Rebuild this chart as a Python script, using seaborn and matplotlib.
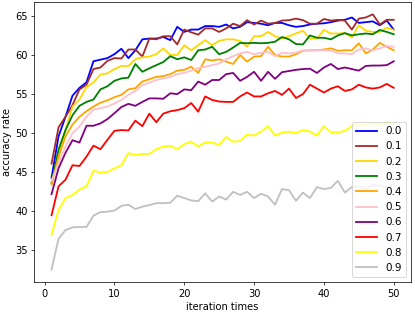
import numpy as np
import pandas as pd
import seaborn as sns
import matplotlib
matplotlib.use("Agg")
import matplotlib.pyplot as plt

# values
iterations = list(range(1, 51))
rates = ["0.0", "0.1", "0.2", "0.3", "0.4", "0.5", "0.6", "0.7", "0.8", "0.9"]
colors = ["blue", "brown", "gold", "green", "orange", "pink", "purple", "red", "yellow", "silver"]

acc_00 = [44.3, 49.6, 52.1, 54.8, 55.8, 56.5, 59.2, 59.4, 59.6, 60.1,
          60.8, 59.6, 60.6, 62.0, 62.1, 62.1, 62.3, 61.9, 63.6, 62.95,
          63.25, 63.25, 63.7, 63.7, 63.6, 63.9, 63.4, 63.6, 64.2, 64.1,
          64.0, 63.8, 64.1, 64.1, 63.8, 63.6, 63.7, 63.9, 64.0, 64.05,
          64.2, 64.4, 64.5, 64.8, 64.1, 64.2, 64.3, 63.8, 64.4, 63.25]
acc_01 = [46.1, 50.75, 52.1, 53.6, 55.6, 56.2, 58.2, 58.4, 59.25, 59.6,
          59.55, 60.7, 60.7, 59.8, 62.1, 62.0, 62.4, 62.4, 61.35, 63.25,
          62.9, 62.6, 63.4, 63.4, 62.95, 63.4, 64.0, 63.7, 64.45, 63.9,
          64.4, 64.0, 64.1, 64.4, 64.45, 64.65, 64.45, 64.0, 64.0, 64.6,
          64.4, 64.5, 64.4, 63.25, 64.65, 64.8, 65.2, 63.9, 64.5, 64.5]
acc_02 = [43.8, 47.0, 50.4, 53.4, 54.3, 55.9, 56.5, 57.5, 57.65, 58.2,
          58.6, 58.6, 59.45, 59.7, 59.8, 60.1, 60.85, 60.0, 60.0, 61.25,
          60.6, 61.25, 61.9, 61.25, 61.8, 62.0, 62.0, 61.8, 61.05, 62.4,
          62.4, 62.95, 62.4, 62.1, 62.4, 62.75, 63.1, 62.1, 62.1, 63.2,
          62.75, 62.75, 62.8, 62.25, 63.8, 63.1, 62.95, 62.95, 63.5, 63.2]
acc_03 = [43.6, 47.9, 50.4, 52.3, 53.5, 54.0, 54.3, 55.6, 56.0, 56.7,
          57.0, 57.1, 58.85, 57.85, 58.3, 58.7, 59.1, 59.85, 59.45, 59.7,
          59.35, 60.6, 60.7, 61.05, 60.1, 60.4, 60.95, 61.55, 61.5, 61.55,
          61.5, 61.55, 61.7, 62.3, 62.0, 61.4, 61.35, 62.5, 62.2, 62.2,
          62.0, 62.5, 62.8, 62.5, 62.65, 62.75, 62.65, 63.2, 62.95, 62.65]
acc_04 = [43.4, 47.0, 49.6, 51.1, 52.1, 52.8, 53.4, 53.9, 54.2, 54.6,
          54.9, 55.6, 55.75, 56.6, 56.9, 57.2, 57.3, 57.55, 58.0, 58.1,
          58.5, 57.7, 59.45, 59.3, 59.45, 59.15, 58.85, 60.0, 59.15, 59.8,
          59.85, 61.05, 60.0, 59.8, 59.8, 60.1, 60.55, 60.6, 60.6, 60.7,
          60.85, 60.55, 60.6, 60.6, 61.5, 60.2, 60.7, 61.55, 61.05, 60.6]
acc_05 = [43.9, 46.2, 48.3, 50.0, 50.85, 52.1, 53.0, 53.2, 53.4, 53.8,
          54.25, 54.9, 55.4, 56.15, 56.45, 56.8, 57.0, 57.2, 57.55, 57.7,
          58.0, 58.3, 58.5, 58.7, 58.9, 59.45, 59.85, 60.2, 60.4, 60.1,
          60.3, 60.4, 59.85, 60.3, 60.2, 60.3, 60.6, 60.55, 60.6, 60.6,
          60.55, 60.2, 60.2, 60.1, 60.7, 60.85, 60.6, 60.85, 61.15, 61.05]
acc_06 = [42.2, 45.5, 47.5, 49.1, 48.8, 50.95, 50.95, 51.25, 51.8, 52.55,
          53.35, 53.75, 53.5, 54.0, 54.45, 54.45, 54.4, 55.1, 55.0, 55.6,
          55.5, 56.6, 56.2, 56.8, 56.8, 57.55, 57.7, 56.7, 57.2, 57.85,
          56.7, 57.85, 56.95, 57.8, 57.95, 58.1, 58.2, 58.25, 57.7, 58.4,
          58.85, 58.2, 58.4, 58.2, 58.0, 58.6, 58.65, 58.65, 58.7, 59.2]
acc_07 = [39.5, 43.2, 44.05, 45.9, 45.8, 47.0, 48.4, 47.95, 49.15, 50.3,
          50.4, 50.35, 51.6, 50.9, 52.5, 51.4, 52.5, 52.8, 52.95, 53.2,
          53.85, 52.75, 54.7, 54.25, 54.05, 54.0, 54.0, 54.7, 55.2, 54.7,
          54.7, 55.1, 55.4, 54.9, 55.7, 54.5, 55.0, 56.2, 55.7, 55.2,
          55.7, 56.0, 55.4, 55.6, 56.2, 55.85, 55.7, 55.85, 56.3, 55.8]
acc_08 = [37.0, 40.2, 41.7, 42.1, 42.8, 43.2, 45.2, 44.97, 45.05, 45.5,
          45.9, 47.45, 47.2, 47.35, 47.35, 47.95, 48.3, 48.4, 47.95, 48.6,
          48.9, 48.3, 48.8, 48.8, 48.5, 49.5, 48.9, 49.0, 49.8, 49.7,
          50.2, 50.9, 49.7, 50.1, 50.2, 50.0, 50.4, 50.2, 49.7, 50.9,
          50.1, 50.1, 50.3, 50.9, 51.2, 51.0, 51.3, 51.1, 51.4, 51.2]
acc_09 = [32.56, 36.5, 37.6, 37.96, 38.0, 38.0, 39.45, 39.9, 39.96, 40.1,
          40.7, 40.85, 40.3, 40.6, 40.8, 41.05, 41.05, 41.1, 42.0, 41.7,
          41.4, 41.3, 42.3, 41.25, 41.9, 41.5, 42.5, 42.1, 42.5, 41.7,
          42.25, 41.9, 40.85, 42.85, 42.7, 41.35, 42.4, 41.7, 43.1, 42.85,
          43.0, 43.9, 42.4, 43.1, 43.2, 42.9, 43.4, 43.3, 43.0, 43.5]

series = [acc_00, acc_01, acc_02, acc_03, acc_04, acc_05, acc_06, acc_07, acc_08, acc_09]

frames = []
for rate, acc in zip(rates, series):
    frames.append(pd.DataFrame({"iteration": iterations, "accuracy": acc, "rate": rate}))
df = pd.concat(frames, ignore_index=True)

fig, ax = plt.subplots(figsize=(415 / 65, 314 / 65), dpi=65)
fig.subplots_adjust(left=0.083, right=0.99, bottom=0.101, top=0.995)

sns.lineplot(data=df, x="iteration", y="accuracy", hue="rate", hue_order=rates,
             palette=colors, linewidth=2.0, ax=ax)

ax.set_xlabel("iteration times", fontsize=11)
ax.set_ylabel("accuracy rate", fontsize=11)
ax.tick_params(labelsize=11)
ax.legend(loc="lower right", fontsize=11.5, handlelength=2.0)

fig.savefig("out.png", dpi=65)
